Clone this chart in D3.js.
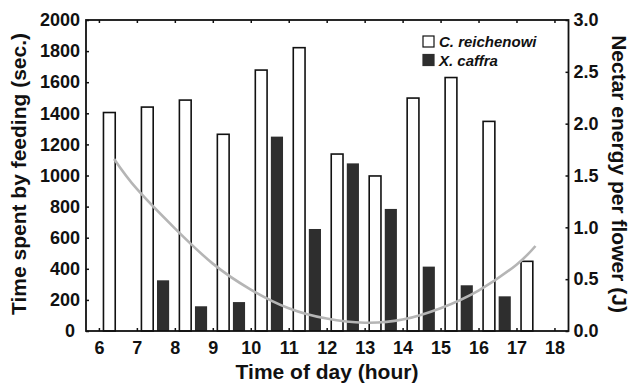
<!DOCTYPE html>
<html lang="en">
<head>
<meta charset="utf-8">
<title>Feeding time and nectar energy</title>
<script src="https://cdn.jsdelivr.net/npm/d3@7/dist/d3.min.js"></script>
<style>
  body { margin: 0; background: #fff; }
  svg { display: block; font-family: "Liberation Sans", Arial, sans-serif; }
  .tick text { font-size: 18px; font-weight: bold; fill: #111; }
  .tick line { stroke: #111; stroke-width: 1.5; }
</style>
</head>
<body>
<script>
// data
var hours = [6, 7, 8, 9, 10, 11, 12, 13, 14, 15, 16, 17];
var reichenowi = [1405, 1440, 1485, 1265, 1678, 1822, 1138, 997, 1498, 1630, 1348, 448];
var caffra = [0, 326, 159, 186, 1250, 656, 1078, 785, 414, 294, 223, 0];
var curveHours = [6.4, 7, 8, 9, 10, 11, 12, 13, 14, 15, 16, 17, 17.5];
var curveEnergy = [1.66, 1.37, 0.99, 0.65, 0.40, 0.22, 0.12, 0.08, 0.11, 0.22, 0.39, 0.64, 0.82];
var xTicks = [6, 7, 8, 9, 10, 11, 12, 13, 14, 15, 16, 17, 18];
var leftTicks = [0, 200, 400, 600, 800, 1000, 1200, 1400, 1600, 1800, 2000];
var rightTicks = [0, 0.5, 1, 1.5, 2, 2.5, 3];
var seriesNames = ["C. reichenowi", "X. caffra"];

var w = 632, h = 388;
var plotL = 86, plotR = 568.5, plotT = 20, plotB = 331;
var darkFill = "#2e2e2e";

var svg = d3.select("body").append("svg")
    .attr("width", w)
    .attr("height", h);

var x = d3.scaleLinear().domain([5.66, 18.37]).range([plotL, plotR]);
var yL = d3.scaleLinear().domain([0, 2000]).range([plotB, plotT]);
var yR = d3.scaleLinear().domain([0, 3]).range([plotB, plotT]);

// white bars
svg.selectAll("rect.cr")
    .data(hours)
    .enter()
    .append("rect")
    .attr("class", "cr")
    .attr("x", function(d) { return x(d + 0.12); })
    .attr("width", function(d) { return x(d + 0.43) - x(d + 0.12); })
    .attr("y", function(d, i) { return yL(reichenowi[i]); })
    .attr("height", function(d, i) { return plotB - yL(reichenowi[i]); })
    .attr("fill", "#fff")
    .attr("stroke", "#111")
    .attr("stroke-width", 1.6);

// dark bars
svg.selectAll("rect.xc")
    .data(hours.filter(function(d, i) { return caffra[i] > 0; }))
    .enter()
    .append("rect")
    .attr("class", "xc")
    .attr("x", function(d) { return x(d + 0.53); })
    .attr("width", function(d) { return x(d + 0.85) - x(d + 0.53); })
    .attr("y", function(d) { return yL(caffra[hours.indexOf(d)]); })
    .attr("height", function(d) { return plotB - yL(caffra[hours.indexOf(d)]); })
    .attr("fill", darkFill);

// grey energy curve
var line = d3.line()
    .x(function(d) { return x(d); })
    .y(function(d, i) { return yR(curveEnergy[i]); })
    .curve(d3.curveNatural);
svg.append("path")
    .datum(curveHours)
    .attr("d", line)
    .attr("fill", "none")
    .attr("stroke", "#b5b5b5")
    .attr("stroke-width", 2.6);

// axes
var gx = svg.append("g")
    .attr("transform", "translate(0," + plotB + ")")
    .call(d3.axisBottom(x).tickValues(xTicks).tickSizeInner(-3).tickSizeOuter(0).tickPadding(10));
var gt = svg.append("g")
    .attr("transform", "translate(0," + plotT + ")")
    .call(d3.axisTop(x).tickValues(xTicks).tickSizeInner(-3).tickSizeOuter(0).tickFormat(""));
var gl = svg.append("g")
    .attr("transform", "translate(" + plotL + ",0)")
    .call(d3.axisLeft(yL).tickValues(leftTicks).tickFormat(d3.format("d")).tickSizeInner(-3).tickSizeOuter(0).tickPadding(6));
var gr = svg.append("g")
    .attr("transform", "translate(" + plotR + ",0)")
    .call(d3.axisRight(yR).tickValues(rightTicks).tickFormat(d3.format(".1f")).tickSizeInner(-3).tickSizeOuter(0).tickPadding(5));
[gx, gt, gl, gr].forEach(function(g) {
    g.select(".domain").remove();
    g.attr("font-family", null).attr("font-size", null);
});
gl.selectAll(".tick text").attr("dx", function(d) { return d === 0 ? -5 : 0; });

// frame
svg.append("rect")
    .attr("x", plotL)
    .attr("y", plotT)
    .attr("width", plotR - plotL)
    .attr("height", plotB - plotT)
    .attr("fill", "none")
    .attr("stroke", "#111")
    .attr("stroke-width", 1.8);

// axis titles
svg.append("text")
    .text("Time of day (hour)")
    .attr("x", 327)
    .attr("y", 379)
    .attr("text-anchor", "middle")
    .attr("font-size", "21px")
    .attr("font-weight", "bold")
    .attr("fill", "#111");
svg.append("text")
    .text("Time spent by feeding (sec.)")
    .attr("transform", "translate(26,174) rotate(-90)")
    .attr("text-anchor", "middle")
    .attr("font-size", "21px")
    .attr("font-weight", "bold")
    .attr("fill", "#111");
svg.append("text")
    .text("Nectar energy per flower (J)")
    .attr("transform", "translate(612,174) rotate(90)")
    .attr("text-anchor", "middle")
    .attr("font-size", "21px")
    .attr("font-weight", "bold")
    .attr("fill", "#111");

// legend
var legend = svg.selectAll("g.legend")
    .data(seriesNames)
    .enter()
    .append("g")
    .attr("class", "legend")
    .attr("transform", function(d, i) { return "translate(423," + (36 + i * 18.5) + ")"; });
legend.append("rect")
    .attr("width", 11)
    .attr("height", 11)
    .attr("fill", function(d, i) { return i === 0 ? "#fff" : darkFill; })
    .attr("stroke", function(d, i) { return i === 0 ? "#111" : darkFill; })
    .attr("stroke-width", 1.2);
legend.append("text")
    .text(function(d) { return d; })
    .attr("x", 16)
    .attr("y", 11)
    .attr("font-size", "15px")
    .attr("font-weight", "bold")
    .attr("font-style", "italic")
    .attr("fill", "#111");
</script>
</body>
</html>
